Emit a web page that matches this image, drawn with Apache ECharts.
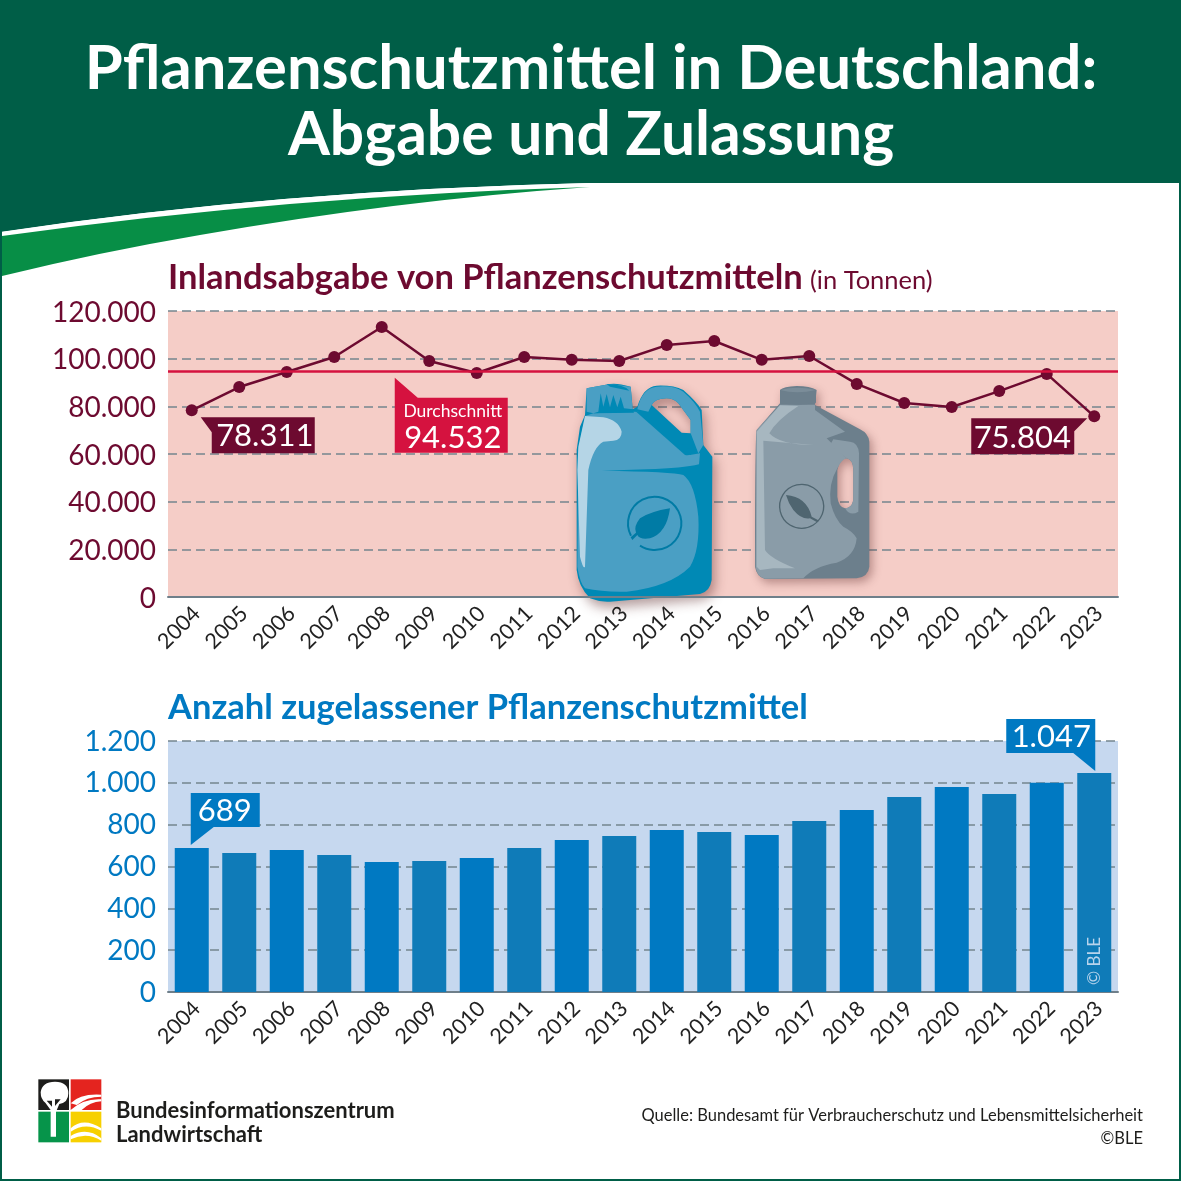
<!DOCTYPE html>
<html lang="de">
<head>
<meta charset="utf-8">
<title>Pflanzenschutzmittel in Deutschland</title>
<script src="https://cdn.jsdelivr.net/npm/echarts@6/dist/echarts.min.js"></script>
<style>
  html, body { margin: 0; padding: 0; background: #fff; }
  #chart { width: 1181px; height: 1181px; }
</style>
</head>
<body>
<div id="chart"></div>
<script>
var years = ['2004','2005','2006','2007','2008','2009','2010','2011','2012','2013','2014','2015','2016','2017','2018','2019','2020','2021','2022','2023'];
var abgabe = [78311,88100,94400,100700,113300,99000,94000,100700,99500,99000,105700,107400,99500,101100,89400,81400,79700,86400,93600,75804];
var abgabeMittel = 94532;
var zulassungen = [689,665,679,655,622,626,641,689,727,746,775,765,751,818,870,932,980,947,1000,1047];

var WINE = '#6d0a30', RED = '#d5123f', BLUE = '#0079c2', BLUE2 = '#0f7bb8', DARK = '#005e47';
var FONT = 'Lato, "Noto Sans", sans-serif';

function dotted(v) {
    return String(v).replace(/\B(?=(\d{3})+$)/g, '.');
}

function yAxis(gridIndex, max, step, color, nudge) {
    return {
        type: 'value', gridIndex: gridIndex, min: 0, max: max, interval: step,
        axisLine: { show: false }, axisTick: { show: false },
        // small lineHeight + top align nudges the digits a few px below the gridline
        axisLabel: { color: color, fontSize: 28, fontFamily: FONT, margin: 12, verticalAlign: 'top', lineHeight: nudge, formatter: dotted },
        splitLine: { lineStyle: { color: '#74858f', width: 1.5, type: [9, 5] } }
    };
}

function xAxis(gridIndex) {
    return {
        type: 'category', gridIndex: gridIndex, data: years,
        axisLine: { lineStyle: { color: '#6f7f8a', width: 2 } }, axisTick: { show: false },
        axisLabel: { color: '#222', fontSize: 21.5, fontFamily: FONT, rotate: 45, margin: 8, verticalAlign: 'top', lineHeight: 14, interval: 0 }
    };
}

var chart = echarts.init(document.getElementById('chart'), null, { renderer: 'canvas' });

chart.setOption({
    animation: false,
    backgroundColor: '#fff',
    grid: [
        { left: 168, top: 311, width: 950, height: 286, show: true, backgroundColor: '#f5cdc7', borderWidth: 0 },
        { left: 168, top: 741, width: 950, height: 251, show: true, backgroundColor: '#c6d8ef', borderWidth: 0 }
    ],
    xAxis: [xAxis(0), xAxis(1)],
    yAxis: [yAxis(0, 120000, 20000, WINE, 3), yAxis(1, 1200, 200, BLUE, 1)],
    series: [
        {
            type: 'line', xAxisIndex: 0, yAxisIndex: 0, data: abgabe,
            symbol: 'circle', symbolSize: 12,
            lineStyle: { color: WINE, width: 2.5 }, itemStyle: { color: WINE },
            markLine: {
                silent: true, symbol: 'none', label: { show: false },
                lineStyle: { color: RED, width: 2.5, type: 'solid' },
                data: [{ yAxis: abgabeMittel }]
            }
        },
        {
            type: 'bar', xAxisIndex: 1, yAxisIndex: 1, barWidth: 34,
            data: zulassungen.map(function (v, i) {
                var item = { value: v, itemStyle: { color: i % 2 ? BLUE2 : BLUE } };
                if (i === zulassungen.length - 1) {
                    item.label = {
                        show: true, formatter: '© BLE', position: 'insideBottom', distance: 7, rotate: 90,
                        align: 'left', verticalAlign: 'middle', color: '#b8d4ec', fontSize: 17, fontFamily: FONT
                    };
                }
                return item;
            })
        }
    ]
});

// callouts hang off the real data positions
function pt0(i, v) { return chart.convertToPixel({ xAxisIndex: 0, yAxisIndex: 0 }, [i, v]); }
function pt1(i, v) { return chart.convertToPixel({ xAxisIndex: 1, yAxisIndex: 1 }, [i, v]); }

function callout(anchor, pts, color) {
    return {
        type: 'polygon', x: anchor[0], y: anchor[1],
        shape: { points: pts }, style: { fill: color }
    };
}
function label(x, y, text, size, align) {
    return {
        type: 'text', x: x, y: y,
        style: { text: text, fill: '#fff', font: size + 'px ' + FONT, textAlign: align || 'center', textVerticalAlign: 'middle' }
    };
}
// y is the baseline; zrender only knows top/middle/bottom, 0.8 em is about right for Lato
function txt(x, y, text, size, weight, color, align) {
    return {
        type: 'text', x: x, y: y - 0.8 * size,
        style: { text: text, fill: color, font: weight + ' ' + size + 'px ' + FONT, textAlign: align || 'left', textVerticalAlign: 'top' }
    };
}
// the graphic component has no plain path type, so each outline gets registered as a shape
var shapeCount = 0;
function shape(d, fill, extra) {
    var name = 'deko' + (shapeCount++);
    echarts.graphic.registerShape(name, echarts.graphic.extendPath(d));
    var s = { type: name, style: { fill: fill } };
    if (extra) { for (var k in extra) s.style[k] = extra[k]; }
    return s;
}

var first = pt0(0, abgabe[0]);
var last = pt0(19, abgabe[19]);
var mean = pt0(4, abgabeMittel);
var barFirst = pt1(0, zulassungen[0]);
var barLast = pt1(19, zulassungen[19]);

// blue canister, drawn in a local 3x space
var blueBottle = {
    type: 'group', x: 560, y: 370, scaleX: 1 / 3, scaleY: 1 / 3,
    children: [
        shape('M75,135 L60,170 L50,240 L50,600 Q55,650 90,685 Q120,697 150,695 L420,672 Q450,665 455,630 L457,260 L430,225 L425,120 Q410,95 370,60 Q340,45 290,47 Q250,50 232,110 L218,118 L212,50 Q170,38 150,42 L80,55 Z M275,105 Q285,85 320,85 Q340,85 355,100 L392,150 L392,190 L365,188 Z',
            '#0089b5', { shadowBlur: 12, shadowColor: 'rgba(90,40,40,0.45)', shadowOffsetX: 3, shadowOffsetY: 6 }),
        shape('M75,138 L55,240 L52,590 Q60,640 75,655 Q130,667 200,665 Q330,650 390,590 Q420,540 415,440 Q405,340 370,315 Q340,305 125,302 L260,298 Q370,295 417,283 L420,250 L390,255 L235,125 L215,125 L100,130 Z', '#4a9fc4'),
        shape('M232,118 Q245,55 290,50 Q340,45 370,65 Q405,95 420,125 L430,225 L415,250 L392,190 L392,150 L355,100 Q340,85 320,85 Q285,85 275,105 L265,125 Z', '#4a9fc4'),
        shape('M225,122 L250,130 L395,245 Q395,258 375,255 Z', '#0089b5'),
        shape('M75,138 L130,142 Q175,150 185,185 Q185,210 160,212 L130,215 Q100,230 85,300 L75,590 Q70,600 60,560 L52,300 L55,230 Z', '#b5d5e6'),
        shape('M80,55 L150,42 L212,50 L218,118 L100,130 L80,125 Z', '#4a9fc4'),
        shape('M100,130 L115,125 L122,70 L130,110 L140,72 L150,112 L160,75 L172,112 L182,80 L192,115 L218,118 L222,128 Z', '#0089b5'),
        shape('M140,42 Q190,42 208,62 L150,50 Z', '#0089b5'),
        shape('M213,497 A80,80 0 1 1 240,527', 'none', { stroke: '#007ba5', lineWidth: 6 }),
        shape('M330,415 Q320,490 270,505 Q240,510 232,495 L217,510 L212,502 L228,488 Q220,470 240,445 Q270,425 330,415 Z', '#007ba5')
    ]
};

// grey canister
var greyBottle = {
    type: 'group', x: 560, y: 370, scaleX: 1 / 3, scaleY: 1 / 3,
    children: [
        shape('M660,100 L590,180 Q585,200 585,590 Q590,620 615,627 L890,625 Q925,620 928,590 L928,215 Q925,190 900,178 L765,105 L770,60 Q750,48 710,48 Q670,50 660,60 Z M832,300 Q840,265 860,265 Q880,270 880,300 L880,390 Q875,415 855,415 Q835,410 832,380 Z',
            '#6c7f8c', { shadowBlur: 10, shadowColor: 'rgba(90,40,40,0.4)', shadowOffsetX: 3, shadowOffsetY: 4 }),
        shape('M660,104 L590,180 L587,590 Q590,620 615,626 L730,625 Q760,590 830,578 Q885,560 890,505 Q880,485 850,470 Q825,450 812,400 Q805,340 832,295 Q845,268 860,265 L800,205 L855,185 L765,120 L765,104 Z', '#8a9ca8'),
        shape('M860,265 Q880,270 880,300 L880,390 Q875,415 855,415 Q870,440 895,425 L897,250 Q895,218 870,215 L820,208 L810,225 Z', '#8a9ca8'),
        shape('M660,106 L715,108 Q650,150 628,190 Q660,225 760,225 L610,212 L615,540 Q630,565 705,595 L640,595 L600,600 L590,590 L590,185 Z', '#a7b7c0'),
        shape('M660,60 Q710,45 768,60 L768,98 Q710,110 660,98 Z', '#6c7f8c'),
        shape('M660,60 Q710,46 768,60 Q710,74 660,60 Z', '#7b8d99'),
        shape('M690,465 A66,66 0 1 1 760,465 A66,66 0 0 1 690,465', 'none', { stroke: '#4f6570', lineWidth: 4 }),
        shape('M678,375 Q740,380 755,440 L778,452 L770,456 L750,445 Q725,450 700,420 Q685,400 678,375 Z', '#4f6570')
    ]
};

var logo = {
    type: 'group', x: 0, y: 1060, scaleX: 1 / 3, scaleY: 1 / 3,
    children: [
        { type: 'rect', shape: { x: 115, y: 58, width: 92, height: 92 }, style: { fill: '#1d1d1b' } },
        { type: 'rect', shape: { x: 212, y: 58, width: 92, height: 92 }, style: { fill: '#e4241f' } },
        { type: 'rect', shape: { x: 115, y: 155, width: 92, height: 92 }, style: { fill: '#06944a' } },
        { type: 'rect', shape: { x: 212, y: 155, width: 92, height: 92 }, style: { fill: '#f7d000' } },
        shape('M165,65 Q205,65 205,100 Q205,128 178,132 L168,155 L168,230 L152,230 L152,150 L136,128 Q122,118 122,97 Q126,65 165,65 Z', '#fff'),
        shape('M140,122 L156,140 L156,122 Z M182,118 L165,138 L165,118 Z', '#1d1d1b'),
        shape('M212,130 Q240,100 304,104 L304,110 Q260,110 230,135 Z M212,150 Q250,115 304,118 L304,124 Q270,126 245,150 Z', '#fff'),
        shape('M212,205 Q250,170 304,205 L304,212 Q255,185 212,215 Z M212,228 Q260,200 304,235 L304,242 Q260,215 212,238 Z', '#fff')
    ]
};

chart.setOption({
    graphic: [
        // header band and swoosh
        { type: 'rect', shape: { x: 0, y: 0, width: 1181, height: 183 }, style: { fill: DARK } },
        shape('M0,180 L700,180 L590,183 Q280,190 0,232 Z', DARK),
        shape('M2,232 Q280,190 590,183 L590,186 Q290,196 2,236 Z', '#fff'),
        shape('M2,236 Q290,196 590,187 Q400,200 200,235 Q100,252 2,276 Z', '#078e46'),
        // outer frame
        { type: 'rect', shape: { x: 1, y: 1, width: 1179, height: 1179 }, style: { fill: 'none', stroke: DARK, lineWidth: 2 } },

        txt(591, 87, 'Pflanzenschutzmittel in Deutschland:', 61.5, 'bold', '#fff', 'center'),
        txt(591, 153, 'Abgabe und Zulassung', 60.5, 'bold', '#fff', 'center'),

        txt(168, 288, 'Inlandsabgabe von Pflanzenschutzmitteln', 34.5, 'bold', WINE),
        txt(810, 288, '(in Tonnen)', 25.5, 'normal', WINE),
        txt(168, 718, 'Anzahl zugelassener Pflanzenschutzmittel', 34.5, 'bold', BLUE),

        blueBottle,
        greyBottle,

        // callouts
        callout(first, [[9, 7], [123, 7], [123, 43], [20, 43], [20, 22]], WINE),
        label(first[0] + 73, first[1] + 26, dotted(abgabe[0]), 31),
        callout(mean, [[13, 6], [36, 26], [126, 26], [126, 81], [13, 81]], RED),
        label(mean[0] + 71, mean[1] + 40, 'Durchschnitt', 17.5),
        label(mean[0] + 71, mean[1] + 66, dotted(abgabeMittel), 31),
        callout(last, [[-123, 2], [-7, 2], [-20, 15], [-20, 38], [-123, 38]], WINE),
        label(last[0] + -72, last[1] + 22, dotted(abgabe[19]), 31),
        callout(barFirst, [[-1, -55], [68, -55], [68, -21], [22, -21], [-1, -3]], BLUE),
        label(barFirst[0] + 33, barFirst[1] - 37, dotted(zulassungen[0]), 31),
        callout(barLast, [[-88, -54], [1, -54], [1, -2], [-21, -20], [-88, -20]], BLUE),
        label(barLast[0] - 43, barLast[1] - 36, dotted(zulassungen[19]), 31),

        // footer
        logo,
        txt(116, 1118, 'Bundesinformationszentrum', 22, 'bold', '#1d1d1b'),
        txt(116, 1142, 'Landwirtschaft', 22, 'bold', '#1d1d1b'),
        txt(1143, 1120, 'Quelle: Bundesamt für Verbraucherschutz und Lebensmittelsicherheit', 16.5, 'normal', '#1d1d1b', 'right'),
        txt(1143, 1143, '©BLE', 16.5, 'normal', '#1d1d1b', 'right')
    ]
});
</script>
</body>
</html>
